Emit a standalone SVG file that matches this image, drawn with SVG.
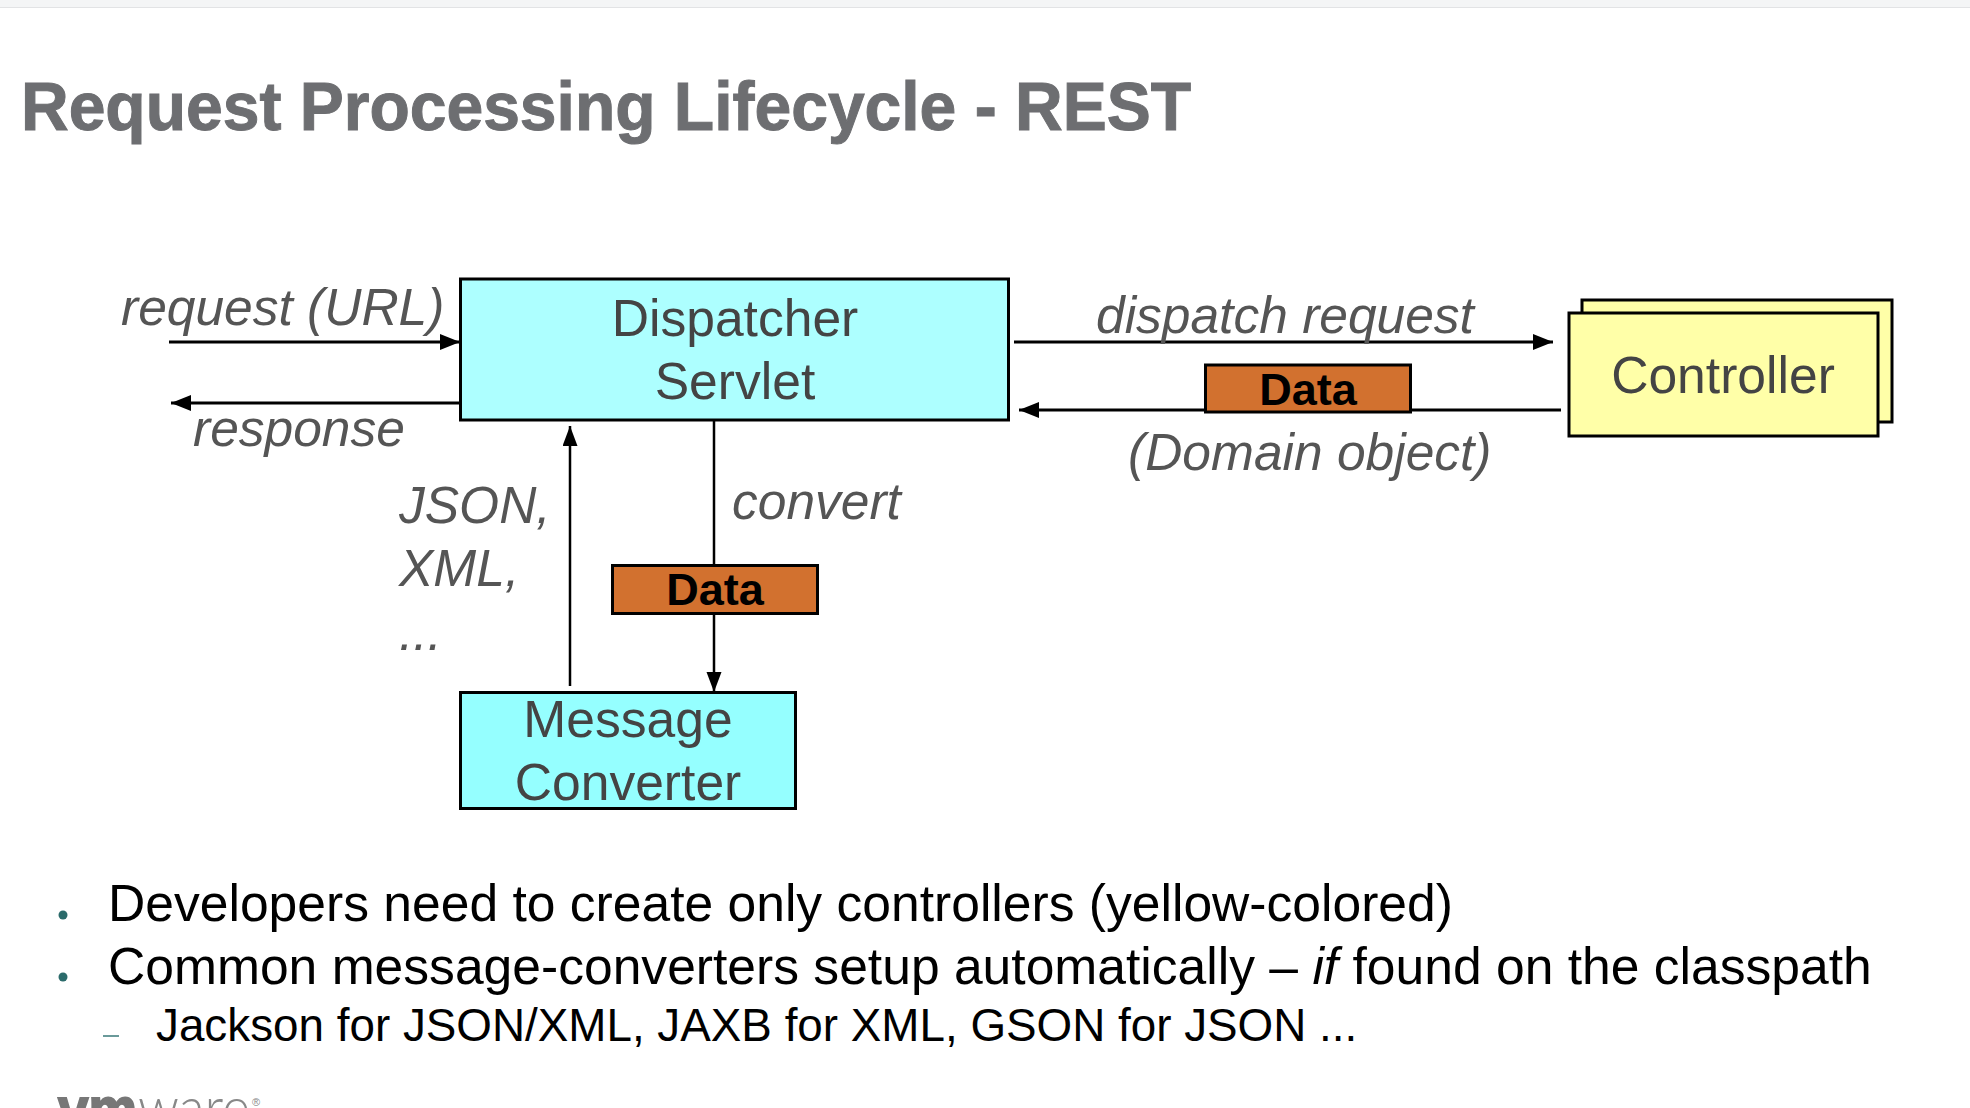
<svg xmlns="http://www.w3.org/2000/svg" width="1970" height="1108" viewBox="0 0 1970 1108">
<style>
text{font-family:"Liberation Sans",Arial,sans-serif}
.lab{font-size:51.500px;fill:#555;font-style:italic}
.nd{font-size:51.600px;fill:#444;text-anchor:middle}
.data{font-size:45px;font-weight:700;fill:#000;text-anchor:middle}
.box{stroke:#000;stroke-width:3}
.org{fill:#d2712f;stroke:#000;stroke-width:3}
.ln{stroke:#000;stroke-width:3;fill:none}
.ln2{stroke:#000;stroke-width:2.500;fill:none}
.bul{font-size:51.600px;fill:#000}
.sub{font-size:45.800px;fill:#000}
</style>
<defs>
<marker id="ah" markerUnits="userSpaceOnUse" markerWidth="22" markerHeight="18" refX="20" refY="8" orient="auto"><path d="M0 0L20 8L0 16Z" fill="#000"/></marker>
<marker id="av" markerUnits="userSpaceOnUse" markerWidth="24" markerHeight="16" refX="20" refY="7.500" orient="auto"><path d="M0 0L20 7.500L0 15Z" fill="#000"/></marker>
</defs>
<rect width="1970" height="1108" fill="#fff"/>
<rect width="1970" height="7" fill="#f4f5f6"/>
<rect y="7" width="1970" height="1" fill="#e2e3e5"/>
<text x="21" y="130" font-size="68" font-weight="700" fill="#6d6e71" stroke="#6d6e71" stroke-width="1" textLength="1170" lengthAdjust="spacingAndGlyphs">Request Processing Lifecycle - REST</text>
<g id="connectors">
<path class="ln" d="M169 342H460" marker-end="url(#ah)"/>
<path class="ln" d="M460 403H171" marker-end="url(#ah)"/>
<path class="ln" d="M1014 342H1553" marker-end="url(#ah)"/>
<path class="ln" d="M1561 410H1019" marker-end="url(#ah)"/>
<path class="ln2" d="M570 686V426" marker-end="url(#av)"/>
<path class="ln2" d="M714 420V692" marker-end="url(#av)"/>
</g>
<g id="dispatcher"><rect class="box" x="460.500" y="279" width="548" height="141" fill="#adffff"/><text class="nd" x="735" y="336">Dispatcher</text><text class="nd" x="735" y="399">Servlet</text></g>
<g id="controller"><rect class="box" x="1582" y="300" width="310" height="122" fill="#ffffa8"/><rect class="box" x="1569" y="313" width="309" height="123" fill="#ffffa8"/><text class="nd" x="1723" y="393">Controller</text></g>
<g id="converter"><rect class="box" x="460.500" y="692.500" width="335" height="116" fill="#95ffff"/><text class="nd" x="628" y="737">Message</text><text class="nd" x="628" y="800">Converter</text></g>
<g id="data-top"><rect class="org" x="1205.500" y="365" width="205" height="47"/><text class="data" x="1308" y="405">Data</text></g>
<g id="data-bottom"><rect class="org" x="612.500" y="565.500" width="205" height="48"/><text class="data" x="715" y="605">Data</text></g>
<g id="labels">
<text class="lab" x="121" y="325">request (URL)</text>
<text class="lab" x="193" y="446">response</text>
<text class="lab" x="1096" y="333">dispatch request</text>
<text class="lab" x="1128" y="470">(Domain object)</text>
<text class="lab" x="732" y="519">convert</text>
<text class="lab" x="399" y="523">JSON,</text>
<text class="lab" x="399" y="586">XML,</text>
<text class="lab" x="399" y="650">...</text>
</g>
<g id="bullets">
<circle cx="63" cy="915" r="4.500" fill="#2b6b6b"/>
<circle cx="63" cy="977" r="4.500" fill="#2b6b6b"/>
<rect x="103" y="1035" width="16" height="2" fill="#6a9a9a"/>
<text class="bul" x="108" y="921">Developers need to create only controllers (yellow-colored)</text>
<text class="bul" x="108" y="984">Common message-converters setup automatically – <tspan font-style="italic">if</tspan> found on the classpath</text>
<text class="sub" x="156" y="1041">Jackson for JSON/XML, JAXB for XML, GSON for JSON ...</text>
</g>
<g id="logo">
<text x="58" y="1129" font-size="60" font-weight="700" fill="#777" stroke="#777" stroke-width="2" textLength="79" lengthAdjust="spacingAndGlyphs">vm</text>
<text x="138" y="1129" font-size="60" fill="#888" style="font-family:Lato,sans-serif;font-weight:300" textLength="112" lengthAdjust="spacingAndGlyphs">ware</text>
<text x="252" y="1106" font-size="11" fill="#888">®</text>
</g>
</svg>
